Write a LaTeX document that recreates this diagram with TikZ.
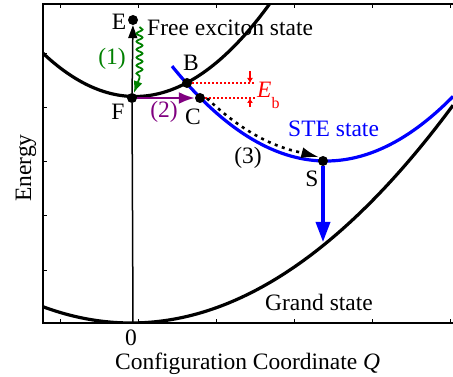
\documentclass[tikz,border=0pt]{standalone}
\usepackage{fontspec}
\setmainfont{Liberation Serif}
\usetikzlibrary{arrows.meta,decorations.pathmorphing}
\definecolor{fgreen}{RGB}{0,128,0}
\definecolor{fpurple}{RGB}{128,0,128}
\begin{document}
\begin{tikzpicture}[x=1pt,y=-1pt,
  font=\fontsize{23.5}{28}\selectfont,
  lbl/.style={inner sep=0pt,anchor=base},
  lblw/.style={inner sep=0pt,anchor=base west},
  dot/.style={circle,fill=black,inner sep=0pt,minimum size=10pt},
  curve/.style={line width=3.2pt},
  frame/.style={line width=2.5pt},
  tick/.style={line width=1pt},
  axisline/.style={line width=1.5pt},
  redline/.style={red,line width=1.2pt,dash pattern=on 2pt off 2pt},
  redarr/.style={red,line width=1.2pt,-{Latex[length=5pt,width=6pt]}},
  dotarr/.style={line width=2.6pt,dash pattern=on 3pt off 4.5pt,-{Latex[length=18pt,width=11pt]}},
  bluearr/.style={blue,line width=3.5pt,-{Triangle[length=20pt,width=14pt]}},
  purparr/.style={fpurple,line width=2.5pt,-{Latex[length=16pt,width=12pt]}},
  greenarr/.style={fgreen,line width=1.8pt,-{Latex[length=12pt,width=9pt]}},
  wave/.style={decoration={snake,amplitude=3pt,segment length=8pt}},
  blackarr/.style={axisline,-{Triangle[length=13pt,width=9pt]}}]
\useasboundingbox (0,0) rectangle (453,377);
% frame and ticks
\draw[frame] (453,4) -- (43,4) -- (43,323) -- (453,323);
\foreach \t in {60,138,216,294,372,450}{
  \draw[tick] (\t,4) -- (\t,8);
  \draw[tick] (\t,323) -- (\t,319);}
\foreach \t in {54,108,162,216,270}{
  \draw[tick] (43,\t) -- (47,\t);}
% curves
\begin{scope}
\clip (43,4) rectangle (453,323);
\draw[curve] plot[domain=43:272,samples=80] (\x,{96.5-51.1*((\x-135)/100)^2});
\draw[curve] plot[domain=43:453,samples=100] (\x,{323-21*((\x-131)/100)^2});
\draw[curve,blue] plot[domain=172:453,samples=100] (\x,{161-40*((\x-326)/100)^2});
\end{scope}
% points
\node[dot] (E) at (133,20) {};
\node[dot] (F) at (132,98) {};
\node[dot] (B) at (187,83) {};
\node[dot] (C) at (200,98) {};
\node[dot] (S) at (323,161) {};
\coordinate (zero) at (133,323);
\coordinate (gs) at (139.5,27);
\coordinate (gm) at (139.5,78);
\coordinate (Br) at (255,83);
\coordinate (Cr) at (255,98);
\coordinate (ra1) at (250,71);
\coordinate (ra1t) at (250,83);
\coordinate (ra2) at (250,107);
\coordinate (ra2t) at (250,98);
\coordinate (Sdown) at (323,242);
% connectors
\draw[axisline] (zero) -- (F);
\draw[blackarr] (F) -- (E);
\draw[greenarr] (gs) decorate[wave]{-- (gm)} -- (F);
\draw[purparr] (F) -- (C);
\draw[redline] (B) -- (Br);
\draw[redline] (C) -- (Cr);
\draw[redarr] (ra1) -- (ra1t);
\draw[redarr] (ra2) -- (ra2t);
\draw[dotarr] plot[domain=207:300,samples=30] (\x,{155-40*((\x-326)/100)^2}) -- (S.north west);
\draw[bluearr] (S) -- (Sdown);
% labels
\node[lbl] (lE) at (119,30) {E};
\node[lblw] (lfree) at (147,36) {Free exciton state};
\node[lbl,text=fgreen] (l1) at (112,65) {(1)};
\node[lbl] (lF) at (118,120) {F};
\node[lbl,text=fpurple] (l2) at (164,118) {(2)};
\node[lbl] (lC) at (193,125) {C};
\node[lbl] (lB) at (191,71) {B};
\node[lblw,text=red] (lEb) at (257,98) {\textit{E}\raisebox{-11pt}{\fontsize{16}{18}\selectfont b}};
\node[lblw,text=blue] (lSTE) at (288,137) {STE state};
\node[lbl] (l3) at (248,164) {(3)};
\node[lbl] (lS) at (312,187) {S};
\node[lblw] (lG) at (265,310) {Grand state};
\node[lbl] (l0) at (131,345) {0};
\node[lblw] (lQ) at (115,369) {Configuration Coordinate \textit{Q}};
\node[lbl,rotate=90] (lEn) at (31,168) {Energy};
\end{tikzpicture}
\end{document}
